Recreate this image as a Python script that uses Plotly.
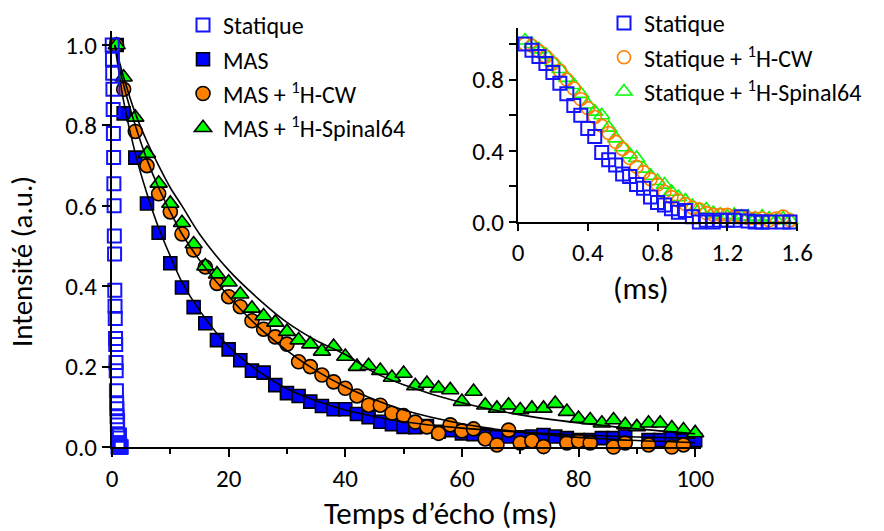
import plotly.graph_objects as go

# ---------------- data ----------------
# Static (ms), shared by main plot and inset
t_static = [0.04, 0.08, 0.12, 0.16, 0.20, 0.24, 0.28, 0.32, 0.36, 0.40, 0.44, 0.48, 0.52,
            0.56, 0.60, 0.64, 0.68, 0.72, 0.76, 0.80, 0.84, 0.88, 0.92, 0.96, 1.00, 1.04,
            1.08, 1.12, 1.16, 1.20, 1.24, 1.28, 1.32, 1.36, 1.40, 1.44, 1.48, 1.52, 1.56]
y_static = [1.00, 0.965, 0.93, 0.89, 0.84, 0.78, 0.72, 0.655, 0.60, 0.525, 0.48, 0.39, 0.35,
            0.32, 0.27, 0.255, 0.21, 0.19, 0.14, 0.11, 0.095, 0.075, 0.055, 0.065, 0.03, 0.0,
            0.01, 0.0, 0.01, 0.01, 0.01, 0.03, 0.005, 0.0, 0.0, 0.0, -0.01, 0.0, 0.0]
y_static_cw = [1.00, 0.99, 0.96, 0.93, 0.89, 0.85, 0.80, 0.75, 0.69, 0.64, 0.59, 0.54, 0.50,
               0.45, 0.41, 0.36, 0.31, 0.28, 0.24, 0.21, 0.17, 0.14, 0.12, 0.10, 0.08, 0.07,
               0.05, 0.04, 0.04, 0.04, 0.03, 0.03, 0.02, 0.02, 0.02, 0.01, 0.02, 0.03, 0.01]
y_static_sp = [1.02, 1.00, 0.97, 0.94, 0.90, 0.86, 0.81, 0.77, 0.72, 0.66, 0.62, 0.60, 0.53,
               0.47, 0.42, 0.38, 0.36, 0.30, 0.26, 0.23, 0.21, 0.17, 0.14, 0.12, 0.09, 0.07,
               0.07, 0.05, 0.04, 0.03, 0.04, 0.03, 0.03, 0.02, 0.03, 0.02, 0.01, 0.02, 0.01]

# MAS series (ms)
t_mas = [0.8, 2, 4, 6, 8, 10, 12, 14, 16, 18, 20, 22, 24, 26, 28, 30, 32, 34, 36, 38, 40,
         42, 44, 46, 48, 50, 52, 54, 56, 58, 60, 62, 64, 66, 68, 70, 72, 74, 76, 78, 80,
         82, 84, 86, 88, 90, 92, 94, 96, 98, 100]
y_mas = [1.0, 0.83, 0.72, 0.606, 0.533, 0.457, 0.397, 0.348, 0.308, 0.266, 0.243, 0.216,
         0.19, 0.185, 0.154, 0.134, 0.127, 0.113, 0.102, 0.094, 0.094, 0.082, 0.074, 0.063,
         0.057, 0.05, 0.049, 0.052, 0.038, 0.042, 0.034, 0.032, 0.03, 0.026, 0.026, 0.024,
         0.026, 0.03, 0.026, 0.022, 0.017, 0.017, 0.022, 0.022, 0.026, -0.001, 0.017, 0.017,
         0.022, 0.024, 0.017]
y_mas_cw = [1.0, 0.89, 0.785, 0.70, 0.63, 0.585, 0.53, 0.49, 0.448, 0.407, 0.374, 0.349,
            0.314, 0.293, 0.274, 0.256, 0.212, 0.200, 0.179, 0.162, 0.146, 0.127, 0.104,
            0.104, 0.084, 0.078, 0.062, 0.05, 0.034, 0.055, 0.04, 0.045, 0.02, 0.005, 0.042,
            0.01, 0.015, 0.001, -0.003, 0.01, 0.015, 0.01, -0.003, 0.0, 0.01, -0.018, 0.005,
            -0.005, 0.0, 0.005, -0.012]
y_mas_sp = [1.0, 0.92, 0.82, 0.73, 0.656, 0.606, 0.558, 0.505, 0.45, 0.43, 0.41, 0.38,
            0.345, 0.326, 0.31, 0.287, 0.266, 0.256, 0.238, 0.25, 0.225, 0.20, 0.202, 0.19,
            0.173, 0.183, 0.152, 0.158, 0.146, 0.142, 0.113, 0.138, 0.104, 0.096, 0.104,
            0.092, 0.096, 0.096, 0.108, 0.088, 0.071, 0.067, 0.059, 0.067, 0.055, 0.05,
            0.059, 0.059, 0.047, 0.042, 0.035]

# fitted curves
t_fit = [0.5, 2, 4, 6, 8, 10, 12, 15, 20, 25, 30, 35, 40, 45, 50, 60, 70, 80, 90, 100]
fit_mas = [1.0, 0.86, 0.73, 0.63, 0.545, 0.475, 0.41, 0.34, 0.25, 0.19, 0.145, 0.115,
           0.092, 0.076, 0.063, 0.047, 0.037, 0.03, 0.025, 0.022]
fit_cw = [1.0, 0.90, 0.80, 0.715, 0.645, 0.585, 0.53, 0.465, 0.375, 0.30, 0.24, 0.19,
          0.15, 0.118, 0.092, 0.058, 0.037, 0.024, 0.016, 0.011]
fit_sp = [1.0, 0.92, 0.83, 0.76, 0.70, 0.645, 0.60, 0.53, 0.44, 0.37, 0.31, 0.265,
          0.23, 0.185, 0.155, 0.11, 0.08, 0.06, 0.045, 0.033]

main_yticks = [0.0, 0.2, 0.4, 0.6, 0.8, 1.0]
main_xticks = [0, 20, 40, 60, 80, 100]
inset_xticks = [0, 0.4, 0.8, 1.2, 1.6]
inset_xtext = ["0", "0.4", "0.8", "1.2", "1.6"]
inset_yticks = [0.0, 0.4, 0.8]

# ---------------- styling ----------------
FONT = "Carlito, Calibri, Lato, sans-serif"
BLUE = "#0000ff"
OBLUE = "#1414ff"
ORANGE = "#ff8000"
GREEN = "#00ff00"
W, H = 884, 531
# plot-paper box in window pixels: x 112..884, y 0..447 (legends then sit inside it)
PX0, PX1, PY0, PY1 = 112, 884, 0, 447
ML, MT = PX0, PY0
MR, MB = W - PX1, H - PY1
PW, PH = PX1 - PX0, PY1 - PY0


def px_x(px):
    return (px - PX0) / PW


def px_y(py):
    return (PY1 - py) / PH


fig = go.Figure()

# main plot
fig.add_trace(go.Scatter(x=t_mas, y=y_mas, mode="markers", name="MAS",
                         legend="legend", legendrank=2,
                         marker=dict(symbol="square", size=13, color=BLUE,
                                     line=dict(color="black", width=1.6)),
                         cliponaxis=False, xaxis="x", yaxis="y"))
fig.add_trace(go.Scatter(x=t_mas, y=y_mas_cw, mode="markers", name="MAS + <sup>1</sup>H-CW",
                         legend="legend", legendrank=3,
                         marker=dict(symbol="circle", size=14, color=ORANGE,
                                     line=dict(color="black", width=1.6)),
                         cliponaxis=False, xaxis="x", yaxis="y"))
fig.add_trace(go.Scatter(x=t_mas, y=y_mas_sp, mode="markers",
                         name="MAS + <sup>1</sup>H-Spinal64",
                         legend="legend", legendrank=4,
                         marker=dict(symbol="triangle-up", size=15, color=GREEN,
                                     line=dict(color="black", width=1.6)),
                         cliponaxis=False, xaxis="x", yaxis="y"))
for fy in (fit_mas, fit_cw, fit_sp):
    fig.add_trace(go.Scatter(x=t_fit, y=fy, mode="lines", line=dict(color="black", width=1.6,
                                                                      shape="spline", smoothing=0.8),
                             showlegend=False, hoverinfo="skip", xaxis="x", yaxis="y"))
fig.add_trace(go.Scatter(x=t_static, y=y_static, mode="markers", name="Statique",
                         legend="legend", legendrank=1,
                         marker=dict(symbol="square-open", size=13, color=OBLUE,
                                     line=dict(color=OBLUE, width=2)),
                         cliponaxis=False, xaxis="x", yaxis="y"))

# inset
fig.add_trace(go.Scatter(x=t_static, y=y_static_sp, mode="markers",
                         name="Statique + <sup>1</sup>H-Spinal64",
                         legend="legend2", legendrank=3,
                         marker=dict(symbol="triangle-up-open", size=14, color=GREEN,
                                     line=dict(color=GREEN, width=1.6)),
                         cliponaxis=False, xaxis="x2", yaxis="y2"))
fig.add_trace(go.Scatter(x=t_static, y=y_static_cw, mode="markers",
                         name="Statique + <sup>1</sup>H-CW",
                         legend="legend2", legendrank=2,
                         marker=dict(symbol="circle-open", size=13, color=ORANGE,
                                     line=dict(color=ORANGE, width=1.6)),
                         cliponaxis=False, xaxis="x2", yaxis="y2"))
fig.add_trace(go.Scatter(x=t_static, y=y_static, mode="markers", name="Statique",
                         legend="legend2", legendrank=1,
                         marker=dict(symbol="square-open", size=13, color=OBLUE,
                                     line=dict(color=OBLUE, width=2)),
                         cliponaxis=False, xaxis="x2", yaxis="y2"))

axis_common = dict(showline=True, linecolor="black", linewidth=2, ticks="outside",
                   tickcolor="black", tickwidth=2, showgrid=False, zeroline=False,
                   tickfont=dict(family=FONT, size=25, color="black"))

fig.update_layout(
    width=W, height=H,
    margin=dict(l=ML, r=MR, t=MT, b=MB, pad=0, autoexpand=False),
    paper_bgcolor="white", plot_bgcolor="rgba(0,0,0,0)",
    font=dict(family=FONT, color="black"),
    xaxis=dict(domain=[0, px_x(701)], range=[0, 101], tickvals=main_xticks, ticklen=8,
               minor=dict(dtick=10, tick0=0, ticks="outside", ticklen=5, tickwidth=2,
                          tickcolor="black"),
               anchor="y", **axis_common),
    yaxis=dict(domain=[0, px_y(31)], range=[0, 1.035], tickvals=main_yticks,
               tickformat=".1f", ticklen=8, anchor="x", **axis_common),
    xaxis2=dict(domain=[px_x(518), px_x(797)], range=[0, 1.6], tickvals=inset_xticks,
                ticktext=inset_xtext, ticklen=7, anchor="y2", **axis_common),
    yaxis2=dict(domain=[px_y(222), px_y(28)], range=[0, 1.09], tickvals=inset_yticks,
                tickformat=".1f", ticklen=7,
                minor=dict(tickvals=[0.2, 0.6, 1.0], ticks="outside", ticklen=7,
                           tickwidth=2, tickcolor="black"),
                anchor="x2", **axis_common),
    legend=dict(x=px_x(183), y=px_y(3), xanchor="left", yanchor="top",
                bgcolor="rgba(0,0,0,0)", font=dict(family=FONT, size=24, color="black"),
                traceorder="normal"),
    legend2=dict(x=px_x(604), y=px_y(1), xanchor="left", yanchor="top",
                 bgcolor="rgba(0,0,0,0)", font=dict(family=FONT, size=24, color="black"),
                 traceorder="normal"),
    annotations=[
        dict(text="Intensité (a.u.)", x=px_x(22), y=px_y(262), xref="paper", yref="paper",
             xanchor="center", yanchor="middle",
             textangle=-90, showarrow=False, font=dict(family=FONT, size=29, color="black")),
        dict(text="Temps d’écho (ms)", x=px_x(441), y=px_y(513), xref="paper", yref="paper",
             xanchor="center", yanchor="middle",
             showarrow=False, font=dict(family=FONT, size=31, color="black")),
        dict(text="(ms)", x=px_x(641), y=px_y(288), xref="paper", yref="paper",
             xanchor="center", yanchor="middle",
             showarrow=False, font=dict(family=FONT, size=31, color="black")),
    ],
)

fig.write_html("out.html", config={"displayModeBar": False},
               post_script="document.body.style.margin='0';")
